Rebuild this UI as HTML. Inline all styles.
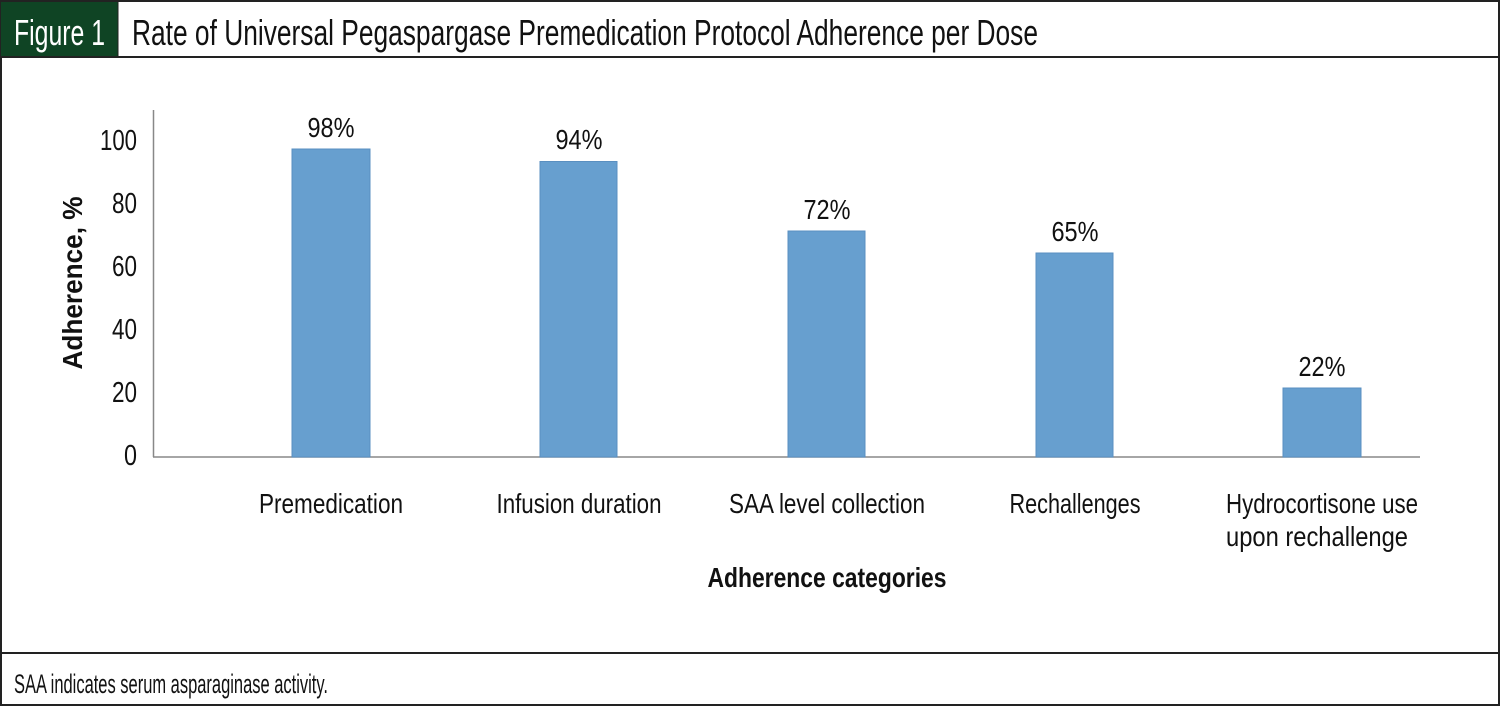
<!DOCTYPE html>
<html><head><style>body{margin:0;background:#fff}svg{display:block}</style></head><body>
<svg width="1500" height="706" viewBox="0 0 1500 706" xmlns="http://www.w3.org/2000/svg" font-family="'Liberation Sans Narrow','Liberation Sans',sans-serif">
<rect x="1" y="1" width="1498" height="704" fill="#fff" stroke="#222" stroke-width="2"/>
<rect x="1" y="2" width="117" height="55" fill="#0f4424"/>
<line x1="0" y1="57" x2="1500" y2="57" stroke="#222" stroke-width="2"/>
<line x1="118" y1="2" x2="118" y2="57" stroke="#222" stroke-width="1"/>
<line x1="0" y1="653" x2="1500" y2="653" stroke="#222" stroke-width="2"/>
<text x="14" y="45" font-size="36" fill="#fff" textLength="91" lengthAdjust="spacingAndGlyphs">Figure 1</text>
<text x="132" y="45" font-size="36" fill="#111" textLength="906" lengthAdjust="spacingAndGlyphs">Rate of Universal Pegaspargase Premedication Protocol Adherence per Dose</text>
<text x="14" y="693" font-size="27" fill="#111" textLength="314" lengthAdjust="spacingAndGlyphs">SAA indicates serum asparaginase activity.</text>
<line x1="153.5" y1="110" x2="153.5" y2="457" stroke="#888" stroke-width="1.5"/>
<line x1="153" y1="457" x2="1420" y2="457" stroke="#888" stroke-width="1.5"/>
<g font-size="29" fill="#111" text-anchor="end">
<text x="137" y="150" textLength="37" lengthAdjust="spacingAndGlyphs">100</text>
<text x="137" y="213" textLength="25" lengthAdjust="spacingAndGlyphs">80</text>
<text x="137" y="276" textLength="25" lengthAdjust="spacingAndGlyphs">60</text>
<text x="137" y="339" textLength="25" lengthAdjust="spacingAndGlyphs">40</text>
<text x="137" y="402" textLength="25" lengthAdjust="spacingAndGlyphs">20</text>
<text x="137" y="465" textLength="13" lengthAdjust="spacingAndGlyphs">0</text>
</g>
<g fill="#679fcf" stroke="#5a8fc0" stroke-width="1">
<rect x="292" y="149" width="78" height="308"/>
<rect x="540" y="161.5" width="77" height="295.5"/>
<rect x="788" y="231" width="77" height="226"/>
<rect x="1036" y="253" width="77" height="204"/>
<rect x="1283" y="388" width="78" height="69"/>
</g>
<g font-size="28" fill="#111" text-anchor="middle">
<text x="331" y="137" textLength="47" lengthAdjust="spacingAndGlyphs">98%</text>
<text x="579" y="149" textLength="47" lengthAdjust="spacingAndGlyphs">94%</text>
<text x="827" y="219" textLength="47" lengthAdjust="spacingAndGlyphs">72%</text>
<text x="1075" y="241" textLength="47" lengthAdjust="spacingAndGlyphs">65%</text>
<text x="1322" y="376" textLength="47" lengthAdjust="spacingAndGlyphs">22%</text>
<text x="331" y="513" textLength="144" lengthAdjust="spacingAndGlyphs">Premedication</text>
<text x="579" y="513" textLength="165" lengthAdjust="spacingAndGlyphs">Infusion duration</text>
<text x="827" y="513" textLength="196" lengthAdjust="spacingAndGlyphs">SAA level collection</text>
<text x="1075" y="513" textLength="131" lengthAdjust="spacingAndGlyphs">Rechallenges</text>
<text x="1322" y="513" textLength="192" lengthAdjust="spacingAndGlyphs">Hydrocortisone use</text>
<text x="1317" y="546" textLength="182" lengthAdjust="spacingAndGlyphs">upon rechallenge</text>
<text x="827" y="587" font-weight="bold" textLength="239" lengthAdjust="spacingAndGlyphs">Adherence categories</text>
<text transform="translate(82,283) rotate(-90)" font-weight="bold" textLength="173" lengthAdjust="spacingAndGlyphs">Adherence, %</text>
</g>
</svg>
</body></html>
